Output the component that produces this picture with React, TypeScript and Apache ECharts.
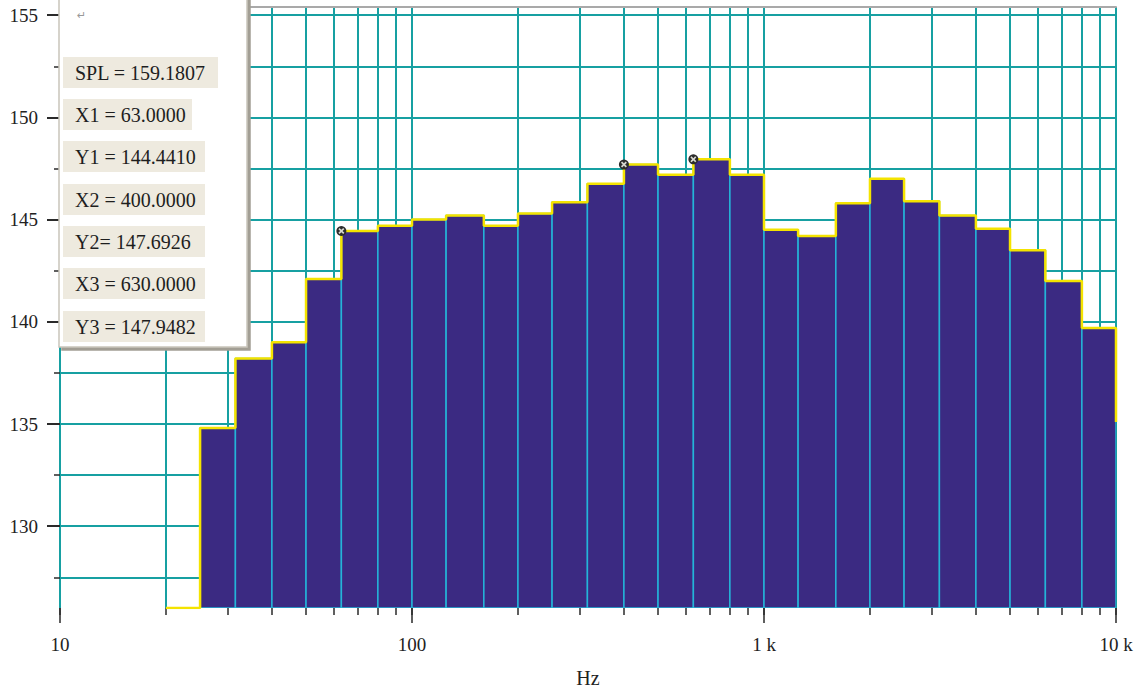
import React, { useEffect, useRef } from "react";
import * as echarts from "echarts";

// One-third octave band levels (dB SPL); each band is held flat up to the next band.
const bandHz = [
  20, 25, 31.5, 40, 50, 63, 80, 100, 125, 160, 200, 250, 315, 400, 500, 630, 800,
  1000, 1250, 1600, 2000, 2500, 3150, 4000, 5000, 6300, 8000, 10000,
];
const bandLevel = [
  126, 134.8, 138.2, 139.0, 142.1, 144.441, 144.7, 145.0, 145.2, 144.7, 145.3, 145.85,
  146.75, 147.6926, 147.2, 147.9482, 147.2, 144.5, 144.2, 145.8, 147.0, 145.9, 145.2,
  144.55, 143.5, 142.0, 139.7, 135.1,
];

// Cursor readouts
const cursorHz = [63, 400, 630];
const cursorLevel = [144.441, 147.6926, 147.9482];
const totalSpl = 159.1807;

// Axis ticks
const minorHz = [
  10, 20, 30, 40, 50, 60, 70, 80, 90, 100, 200, 300, 400, 500, 600, 700, 800, 900,
  1000, 2000, 3000, 4000, 5000, 6000, 7000, 8000, 9000, 10000,
];
const decadeHz = [10, 100, 1000, 10000];
const gridLevels = [127.5, 130, 132.5, 135, 137.5, 140, 142.5, 145, 147.5, 150, 152.5, 155];
const labelLevels = [130, 135, 140, 145, 150, 155];

const Y_MIN = 126;
const Y_MAX = 155.4;

const SERIF = "'Liberation Serif', 'Times New Roman', serif";

const readouts = [
  `SPL = ${totalSpl.toFixed(4)}`,
  `X1 = ${cursorHz[0].toFixed(4)}`,
  `Y1 = ${cursorLevel[0].toFixed(4)}`,
  `X2 = ${cursorHz[1].toFixed(4)}`,
  `Y2= ${cursorLevel[1].toFixed(4)}`,
  `X3 = ${cursorHz[2].toFixed(4)}`,
  `Y3 = ${cursorLevel[2].toFixed(4)}`,
];

function hzLabel(v: number): string {
  return v >= 1000 ? `${Math.round(v / 1000)} k` : `${v}`;
}

export default function App() {
  const ref = useRef<HTMLDivElement>(null);

  useEffect(() => {
    if (!ref.current) return;
    const chart = echarts.init(ref.current, null, { renderer: "svg" });

    const bars = bandHz.slice(0, -1).map((f, i) => [f, bandHz[i + 1], bandLevel[i]]);
    const steps = bandHz.map((f, i) => [f, bandLevel[i]]);
    const cursors = cursorHz.map((f, i) => [f, cursorLevel[i]]);

    // readout panel
    const boxWidths = [155, 129, 142, 142, 142, 142, 142];
    const boxTops = [57, 99, 141, 184, 226, 268, 311];
    const panel: any[] = [
      {
        type: "rect",
        shape: { x: 59, y: -4, width: 188, height: 351 },
        style: {
          fill: "#ffffff",
          stroke: "#C9C5BB",
          lineWidth: 1.5,
          shadowColor: "#A29E94",
          shadowOffsetX: 3,
          shadowOffsetY: 3,
          shadowBlur: 1,
        },
        z: 100,
      },
      {
        type: "text",
        x: 77,
        y: 10,
        style: { text: "\u21B5", fill: "#999", font: "11px 'DejaVu Sans'" },
        z: 101,
      },
    ];
    readouts.forEach((t, i) => {
      panel.push({
        type: "rect",
        shape: { x: 63, y: boxTops[i], width: boxWidths[i], height: 31 },
        style: { fill: "#EEEADF" },
        z: 101,
      });
      panel.push({
        type: "text",
        x: 75,
        y: boxTops[i] + 16,
        style: {
          text: t,
          fill: "#1e1e1e",
          font: `20px ${SERIF}`,
          verticalAlign: "middle",
        },
        z: 102,
      });
    });

    const tickStyle = { color: "#2a2a2a", width: 1.5 };

    chart.setOption({
      animation: false,
      backgroundColor: "#ffffff",
      grid: {
        left: 60,
        right: 26,
        top: 7,
        bottom: 82,
        containLabel: false,
        outerBoundsMode: "none",
      },
      xAxis: [
        {
          type: "log",
          logBase: 10,
          min: 10,
          max: 10000,
          position: "bottom",
          axisLine: { show: false },
          axisTick: { show: true, customValues: minorHz, length: 7, lineStyle: tickStyle },
          axisLabel: { show: false },
          splitLine: { show: true, lineStyle: { color: "#17A0A2", width: 2 } },
          minorTick: { show: false },
          minorSplitLine: { show: false },
        },
        {
          type: "log",
          logBase: 10,
          min: 10,
          max: 10000,
          position: "bottom",
          axisLine: { show: false },
          axisTick: { show: true, customValues: decadeHz, length: 15, lineStyle: tickStyle },
          axisLabel: {
            show: true,
            customValues: decadeHz,
            formatter: (v: number) => hzLabel(v),
            color: "#222",
            fontFamily: SERIF,
            fontSize: 19,
            margin: 27,
          },
          splitLine: { show: false },
          name: "Hz",
          nameLocation: "middle",
          nameGap: 60,
          nameTextStyle: { color: "#222", fontFamily: SERIF, fontSize: 20 },
        },
        {
          type: "log",
          logBase: 10,
          min: 10,
          max: 10000,
          position: "top",
          axisLine: { show: true, lineStyle: { color: "#A9A9A9", width: 2 } },
          axisTick: { show: false },
          axisLabel: { show: false },
          splitLine: { show: false },
        },
      ],
      yAxis: [
        {
          type: "value",
          min: Y_MIN,
          max: Y_MAX,
          axisLine: { show: false },
          axisTick: { show: true, customValues: gridLevels, length: 6, lineStyle: tickStyle },
          axisLabel: { show: false },
          splitLine: { show: true, lineStyle: { color: "#17A0A2", width: 2 } },
        },
        {
          type: "value",
          min: Y_MIN,
          max: Y_MAX,
          position: "left",
          axisLine: { show: false },
          axisTick: {
            show: true,
            customValues: labelLevels,
            length: 13,
            lineStyle: { color: "#2a2a2a", width: 2 },
          },
          axisLabel: {
            show: true,
            customValues: labelLevels,
            color: "#222",
            fontFamily: SERIF,
            fontSize: 19,
            margin: 22,
          },
          splitLine: { show: false },
        },
      ],
      series: [
        {
          type: "custom",
          xAxisIndex: 0,
          yAxisIndex: 0,
          encode: { x: [0, 1], y: 2 },
          data: bars,
          z: 2,
          clip: true,
          renderItem: (params: any, api: any) => {
            const lo = api.value(0) as number;
            const hi = api.value(1) as number;
            const lv = api.value(2) as number;
            const a = api.coord([lo, lv]);
            const b = api.coord([hi, Y_MIN]);
            const h = b[1] - a[1];
            if (h <= 0.5) return null;
            return {
              type: "rect",
              shape: { x: a[0], y: a[1], width: b[0] - a[0], height: h },
              style: { fill: "#3B2A82", stroke: "#24B4D8", lineWidth: 1.5 },
            };
          },
        },
        {
          type: "line",
          xAxisIndex: 0,
          yAxisIndex: 0,
          step: "end",
          data: steps,
          symbol: "none",
          z: 3,
          lineStyle: { color: "#F4E300", width: 2.5 },
        },
        {
          type: "scatter",
          xAxisIndex: 0,
          yAxisIndex: 0,
          data: cursors,
          symbol: "circle",
          symbolSize: 10,
          z: 4,
          itemStyle: { color: "#2c2c2c", opacity: 1 },
        },
        {
          type: "scatter",
          xAxisIndex: 0,
          yAxisIndex: 0,
          data: cursors,
          symbol:
            "path://M2,0L5,3L8,0L10,2L7,5L10,8L8,10L5,7L2,10L0,8L3,5L0,2Z",
          symbolSize: 6,
          z: 5,
          itemStyle: { color: "#d8d8d0", opacity: 1 },
        },
      ],
      graphic: panel,
    });

    return () => chart.dispose();
  }, []);

  return (
    <div
      ref={ref}
      style={{ position: "fixed", left: 0, top: 0, width: 1142, height: 690 }}
    />
  );
}
